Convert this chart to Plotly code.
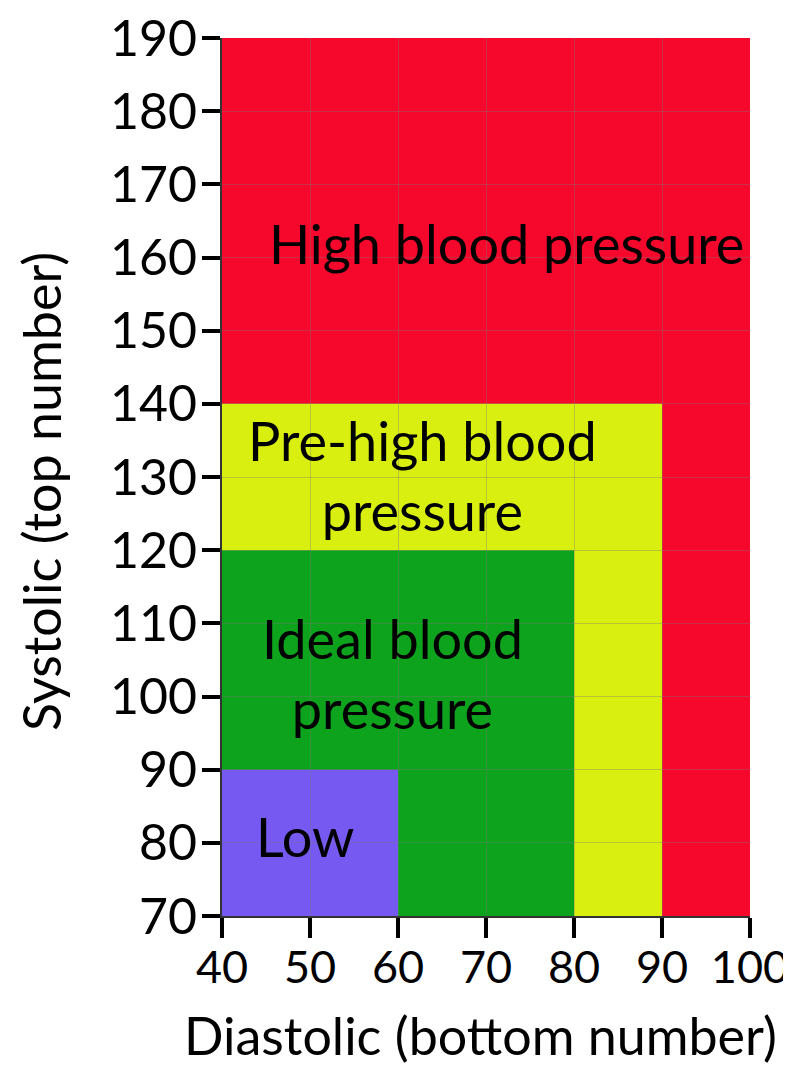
import plotly.graph_objects as go

# Zone definitions (diastolic x-range, systolic y-range)
zone_names = ["High blood pressure", "Pre-high blood<br>pressure", "Ideal blood<br>pressure", "Low"]
zone_x0 = [40, 40, 40, 40]
zone_x1 = [100, 90, 80, 60]
zone_y0 = [70, 70, 70, 70]
zone_y1 = [190, 140, 120, 90]
zone_colors = ["#F5082B", "#D9EF10", "#0EA31D", "#7659F0"]
label_x = [72.3, 62.8, 59.4, 49.4]
label_y = [161.9, 130.2, 103.1, 80.8]

x_ticks = [40, 50, 60, 70, 80, 90, 100]
y_ticks = [70, 80, 90, 100, 110, 120, 130, 140, 150, 160, 170, 180, 190]

x_title = "Diastolic (bottom number)"
y_title = "Systolic (top number)"

FONT = "Lato"

fig = go.Figure()

shapes = []
for x0, x1, y0, y1, c in zip(zone_x0, zone_x1, zone_y0, zone_y1, zone_colors):
    shapes.append(dict(type="rect", xref="x", yref="y", x0=x0, x1=x1, y0=y0, y1=y1,
                       fillcolor=c, line=dict(width=0), layer="below"))

annotations = []
for name, lx, ly in zip(zone_names, label_x, label_y):
    annotations.append(dict(x=lx, y=ly, xref="x", yref="y", text=name, showarrow=False,
                            font=dict(family=FONT, size=54, color="black"), align="center"))

# axis titles as annotations for precise placement
annotations.append(dict(x=0.489, y=0, xref="paper", yref="paper", text=x_title,
                        showarrow=False, xanchor="center", yanchor="top", yshift=-86,
                        font=dict(family=FONT, size=52, color="black")))
annotations.append(dict(x=0, y=0.483, xref="paper", yref="paper", text=y_title,
                        showarrow=False, xanchor="center", yanchor="middle", xshift=-181,
                        textangle=-90, font=dict(family=FONT, size=52, color="black")))

# invisible trace to establish axes
fig.add_trace(go.Scatter(x=[40, 100], y=[70, 190], mode="markers",
                         marker=dict(opacity=0), hoverinfo="skip", showlegend=False))

fig.update_layout(
    width=791, height=1066,
    margin=dict(l=214, r=49, t=30, b=158),
    paper_bgcolor="white", plot_bgcolor="white",
    shapes=shapes, annotations=annotations,
    showlegend=False,
    xaxis=dict(range=[40, 100], tickvals=x_ticks, ticks="outside", ticklen=20, tickwidth=4,
               tickcolor="black", showline=True, linecolor="#333", linewidth=2,
               showgrid=True, gridcolor="rgba(120,120,120,0.35)", gridwidth=1, zeroline=False,
               automargin=False, ticklabeloverflow="allow", ticklabelstandoff=-9,
               tickfont=dict(family=FONT, size=45, color="black")),
    yaxis=dict(range=[70, 190], tickvals=y_ticks, ticks="outside", ticklen=18, tickwidth=4,
               tickcolor="black", showline=True, linecolor="#333", linewidth=2,
               showgrid=True, gridcolor="rgba(120,120,120,0.35)", gridwidth=1, zeroline=False,
               automargin=False, ticklabeloverflow="allow", ticklabelstandoff=-5,
               tickfont=dict(family=FONT, size=50, color="black")),
)

fig.write_html("out.html")
